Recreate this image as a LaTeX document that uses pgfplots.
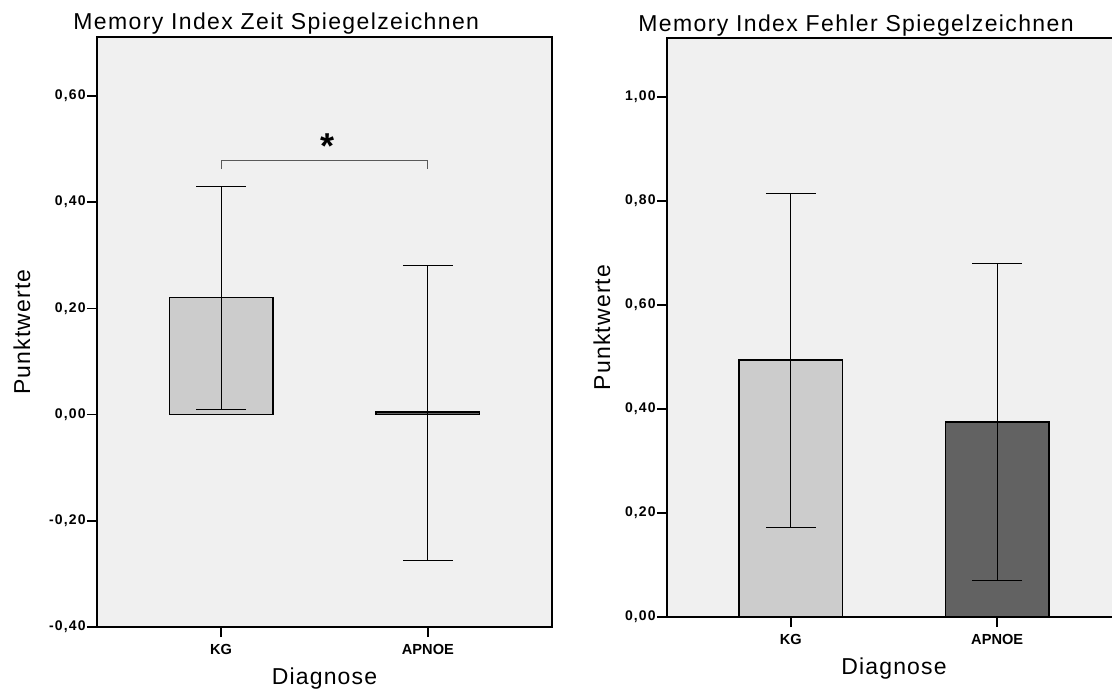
\documentclass[border=0pt]{standalone}
\usepackage{fontspec}
\setmainfont{Liberation Sans}
\newfontfamily\spaced[LetterSpace=6]{Liberation Sans}
\newfontfamily\labfont[LetterSpace=5]{Liberation Sans}
\newfontfamily\tickfont[LetterSpace=8]{Liberation Sans}
\usepackage{pgfplots}
\usepackage{pgfplotstable}
\pgfplotsset{compat=1.18}
\definecolor{bg}{RGB}{240,240,240}
\definecolor{barl}{RGB}{204,204,204}
\definecolor{bard}{RGB}{98,98,98}

\pgfplotstableread{
x y ep em
0 0.220 0.210 0.211
}\leftkg
\pgfplotstableread{
x y ep em
1 0.005 0.276 0.279
}\leftap
\pgfplotstableread{
x y ep em
0 0.494 0.321 0.321
}\rightkg
\pgfplotstableread{
x y ep em
1 0.375 0.304 0.305
}\rightap

\pgfplotsset{
  every axis title shift=0pt,
  spss/.style={
    scale only axis,
    axis background/.style={fill=bg},
    axis line style={line width=0.75pt, black},
    tick style={line width=0.75pt, black},
    major tick length=5pt, tick align=outside,
    xtick pos=bottom, ytick pos=left,
    xtick={0,1}, xticklabels={KG,APNOE},
    xmin=-0.6, xmax=1.6,
    ybar, bar width=0.5, bar shift=0pt,
    yticklabel style={font=\tickfont\fontsize{7}{8}\selectfont\bfseries, inner sep=0pt, xshift=-0.5pt},
    xticklabel style={font=\fontsize{7.3}{8}\selectfont\bfseries},
    title style={font=\spaced\fontsize{11.5}{13}\selectfont, anchor=base west, at={(0,1)}, inner sep=0pt},
    xlabel={Diagnose}, ylabel={Punktwerte},
    label style={font=\labfont\fontsize{11.5}{13}\selectfont},
    xlabel style={at={(0.5,0)}, anchor=base, yshift=-28.5pt},
    ylabel style={at={(0,0.5)}, anchor=center},
    error bars/y dir=both, error bars/y explicit,
    error bars/error mark=|,
    error bars/error bar style={line width=0.5pt, black},
    error bars/error mark options={line width=0.5pt, black, mark size=12.5pt},
  }
}

\begin{document}
\begin{tikzpicture}
\begin{axis}[spss,
  at={(48.5pt,32pt)}, anchor=south west,
  width=227.5pt, height=295pt,
  ymin=-0.4, ymax=0.711,
  ytick={-0.4,-0.2,0,0.2,0.4,0.6},
  yticklabels={{-0,40},{-0,20},{0,00},{0,20},{0,40},{0,60}},
  title={Memory Index Zeit Spiegelzeichnen},
  title style={xshift=-12pt, yshift=3.5pt},
  ylabel style={yshift=37.5pt},
]
\addplot[fill=barl, draw=black, line width=0.75pt] table[x=x, y=y, y error plus=ep, y error minus=em] {\leftkg};
\addplot[fill=bard, draw=black, line width=0.75pt] table[x=x, y=y, y error plus=ep, y error minus=em] {\leftap};
\draw[line width=0.5pt, color=black!65] (axis cs:0,0.462) |- (axis cs:1,0.479) -- (axis cs:1,0.462);
\node[anchor=north, inner sep=0pt, font=\fontsize{18}{18}\selectfont\bfseries] at (axis cs:0.515,0.530) {*};
\end{axis}
\begin{axis}[spss,
  at={(333.5pt,37pt)}, anchor=south west,
  width=227pt, height=289.5pt,
  ymin=0, ymax=1.113,
  ytick={0,0.2,0.4,0.6,0.8,1.0},
  yticklabels={{0,00},{0,20},{0,40},{0,60},{0,80},{1,00}},
  title={Memory Index Fehler Spiegelzeichnen},
  title style={xshift=-14.5pt, yshift=3pt},
  ylabel style={yshift=32.5pt},
]
\addplot[fill=barl, draw=black, line width=0.75pt] table[x=x, y=y, y error plus=ep, y error minus=em] {\rightkg};
\addplot[fill=bard, draw=black, line width=0.75pt] table[x=x, y=y, y error plus=ep, y error minus=em] {\rightap};
\end{axis}
\pgfresetboundingbox
\useasboundingbox (0,0) rectangle (556pt,345.5pt);
\end{tikzpicture}
\end{document}
